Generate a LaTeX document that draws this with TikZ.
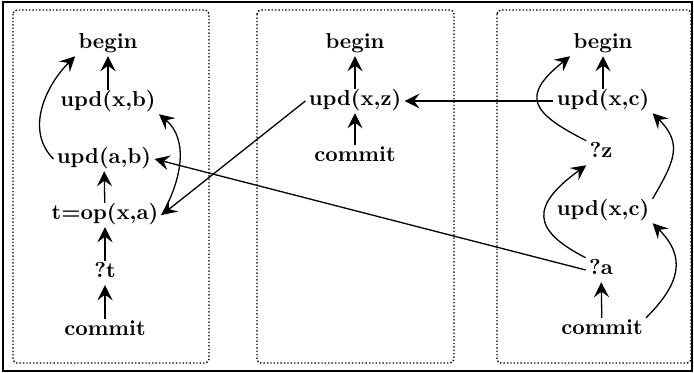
\documentclass[tikz,border=0pt]{standalone}
\usetikzlibrary{arrows.meta}
\begin{document}
\begin{tikzpicture}[x=0.5pt,y=-0.5pt,font=\fontsize{10.8}{12}\selectfont\bfseries]
\tikzset{
  op/.style={inner sep=1.5pt,text height=1.6ex,text depth=.45ex},
  arr/.style={-{Stealth[length=7.5pt,width=7.5pt,inset=2.8pt]},line width=.65pt},
  lane/.style={draw,densely dotted,rounded corners=2pt,line width=.7pt}
}
\useasboundingbox (0,0) rectangle (694,373);
\draw[line width=.8pt] (3,2) rectangle (692,371);
\draw[lane] (13,10) rectangle (209,363);
\draw[lane] (257,10) rectangle (454,363);
\draw[lane] (497,10) rectangle (691,363);
% left transaction
\node(lb)[op] at (108,44){begin};
\node(lxb)[op] at (108,102){upd(x,b)};
\node(lab)[op] at (104,159){upd(a,b)};
\node(lop)[op] at (105,215){t=op(x,a)};
\node(lt)[op] at (105,273){?t};
\node(lc)[op] at (105,331){commit};
% middle transaction
\node(mb)[op] at (355,44){begin};
\node(mxz)[op] at (355,101){upd(x,z)};
\node(mc)[op] at (355,157){commit};
% right transaction
\node(rb)[op] at (603,44){begin};
\node(rxc)[op] at (603,101){upd(x,c)};
\node(rz)[op] at (601,153){?z};
\node(rxc2)[op] at (603,211){upd(x,c)};
\node(ra)[op] at (601,270){?a};
\node(rc)[op] at (602,330){commit};
\draw[arr](lxb)--(lb); \draw[arr](lop)--(lab); \draw[arr](lt)--(lop); \draw[arr](lc)--(lt);
\draw[arr](lab.west) to[out=135,in=-135] (lb.south west);
\draw[arr](lop.east) to[out=60,in=-40] (lxb.south east);
\draw[arr](mxz)--(mb); \draw[arr](mc)--(mxz);
\draw[arr](rxc)--(rb); \draw[arr](rc)--(ra);
\draw[arr](rz.north west) .. controls +(-55,-28) and +(-50,40) .. (rb.south west);
\draw[arr](rxc2.north east) to[out=60,in=-45,looseness=1.3] (rxc.south east);
\draw[arr](ra.north west) .. controls +(-55,-28) and +(-55,40) .. (rz.south west);
\draw[arr](rc.north east) to[out=45,in=-45,looseness=1.3] (rxc2.south east);
% between transactions
\draw[arr](mxz.west)--(lop.east);
\draw[arr](ra.west)--(lab.east);
\draw[arr](rxc.west)--(mxz.east);
\end{tikzpicture}
\end{document}
